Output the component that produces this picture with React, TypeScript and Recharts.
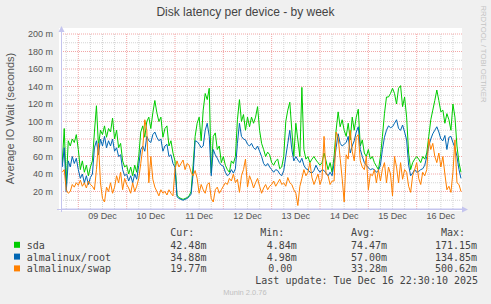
import React from 'react';
import { LineChart, Line, XAxis, YAxis, ReferenceLine } from 'recharts';

// hours after 08 Dec 00:00, one sample per hour
const START_HOUR = 16;

const sdaValues = [
  52, 92, 28, 78, 72, 80, 76, 85, 68, 45,
  55, 42, 50, 38, 48, 55, 88, 118, 72, 90,
  85, 95, 82, 92, 88, 104, 80, 90, 70, 75,
  55, 48, 50, 40, 48, 38, 50, 42, 60, 88,
  95, 82, 100, 105, 92, 110, 124, 110, 100, 105,
  82, 92, 95, 72, 78, 64, 55, 16, 13, 12,
  11, 12, 13, 15, 20, 50, 83, 98, 105, 78,
  113, 132, 125, 138, 41, 83, 87, 68, 72, 53,
  60, 50, 45, 42, 55, 52, 60, 102, 125, 100,
  108, 90, 105, 94, 105, 98, 105, 117, 90, 75,
  68, 60, 65, 62, 53, 50, 55, 57, 46, 48,
  60, 100, 113, 122, 90, 60, 98, 79, 60, 139,
  68, 57, 60, 53, 57, 60, 56, 53, 50, 53,
  64, 55, 45, 53, 42, 60, 90, 111, 94, 102,
  90, 83, 98, 79, 105, 90, 105, 114, 72, 79,
  64, 60, 68, 57, 60, 53, 49, 45, 60, 83,
  109, 128, 128, 132, 138, 132, 120, 138, 141, 117,
  128, 105, 64, 45, 53, 57, 60, 57, 53, 60,
  57, 64, 83, 102, 113, 124, 136, 124, 111, 113,
  98, 109, 102, 90, 120, 105, 72, 53, 42,
];

const rootValues = [
  48, 70, 20, 55, 48, 60, 52, 58, 45, 35,
  40, 30, 38, 28, 36, 40, 70, 78, 62, 80,
  72, 83, 70, 78, 72, 80, 66, 70, 60, 62,
  45, 38, 40, 32, 38, 30, 40, 34, 50, 68,
  72, 66, 83, 78, 76, 85, 88, 82, 78, 80,
  66, 72, 74, 60, 62, 52, 48, 14, 12, 11,
  10, 11, 12, 14, 17, 40, 78, 77, 74, 70,
  72, 90, 98, 83, 38, 68, 62, 58, 53, 50,
  49, 42, 38, 40, 45, 41, 46, 75, 98, 83,
  80, 79, 74, 72, 75, 70, 68, 72, 66, 60,
  52, 49, 52, 48, 45, 42, 45, 44, 40, 38,
  44, 60, 75, 90, 68, 55, 60, 56, 53, 58,
  50, 46, 45, 42, 41, 44, 50, 45, 42, 45,
  44, 41, 38, 42, 38, 52, 70, 86, 75, 72,
  74, 76, 83, 64, 72, 78, 88, 94, 68, 60,
  53, 50, 47, 45, 46, 45, 42, 44, 50, 68,
  82, 90, 95, 93, 94, 98, 102, 92, 90, 96,
  88, 79, 50, 38, 41, 45, 42, 43, 45, 46,
  50, 60, 72, 80, 86, 90, 94, 88, 80, 78,
  84, 68, 82, 83, 76, 70, 60, 45, 35,
];

const swapValues = [
  42, 45, 22, 18, 20, 28, 25, 30, 27, 33,
  26, 30, 24, 32, 28, 26, 22, 45, 75, 30,
  12, 8, 25, 20, 30, 18, 25, 38, 30, 42,
  22, 35, 28, 24, 18, 30, 20, 26, 35, 52,
  70, 102, 90, 30, 60, 34, 25, 20, 15, 22,
  18, 20, 16, 22, 18, 15, 45, 55, 48, 52,
  56, 45, 52, 50, 42, 38, 44, 35, 18, 28,
  22, 18, 28, 30, 12, 8, 22, 25, 18, 22,
  26, 30, 28, 35, 32, 40, 30, 34, 19, 38,
  45, 57, 25, 38, 32, 24, 30, 35, 26, 18,
  24, 28, 22, 26, 28, 32, 26, 30, 34, 28,
  30, 26, 36, 30, 28, 22, 18, 4, 26, 35,
  45, 38, 42, 53, 36, 28, 34, 40, 28, 35,
  83, 40, 38, 28, 32, 32, 88, 82, 58, 35,
  8, 62, 57, 90, 66, 55, 82, 85, 55, 48,
  45, 60, 22, 40, 38, 45, 30, 45, 32, 46,
  53, 30, 48, 40, 15, 60, 48, 30, 53, 34,
  45, 42, 26, 19, 38, 45, 53, 35, 28, 42,
  38, 45, 80, 68, 75, 60, 53, 64, 48, 60,
  40, 22, 26, 19, 42, 79, 30, 28, 20,
];

const xDomain = [15.4, 214.5];
const xTickHours = [36, 60, 84, 108, 132, 156, 180, 204];
const xTickLabels = ['09 Dec', '10 Dec', '11 Dec', '12 Dec', '13 Dec', '14 Dec', '15 Dec', '16 Dec'];
const midnightHours = [24, 48, 72, 96, 120, 144, 168, 192];
const sixHourGrid = [18, 30, 36, 42, 54, 60, 66, 78, 84, 90, 102, 108, 114, 126, 132, 138, 150, 156, 162, 174, 180, 186, 198, 204, 210];
const yTicks = [20, 40, 60, 80, 100, 120, 140, 160, 180, 200];
const yMinor = [10, 30, 50, 70, 90, 110, 130, 150, 170, 190];

const seriesNames = ['sda', 'almalinux/root', 'almalinux/swap'];
const seriesKeys = ['sda', 'root', 'swap'];
const seriesColors = ['#00CC00', '#0066B3', '#FF8000'];
const curText = ['42.48m', '34.88m', '19.77m'];
const minText = ['4.84m', '4.98m', '0.00'];
const avgText = ['74.47m', '57.00m', '33.28m'];
const maxText = ['171.15m', '134.85m', '500.62m'];
const lastUpdate = 'Last update: Tue Dec 16 22:30:10 2025';

const data = sdaValues.map((v, i) => ({
  t: START_HOUR + i,
  sda: v,
  root: rootValues[i],
  swap: swapValues[i],
}));

const AXIS = '#C4C4EE';
const MAJOR = '#F2A6A6';
const MINOR = '#D4D4D4';
const SANS = '"Liberation Sans", Arial, sans-serif';
const MONO = '"DejaVu Sans Mono", monospace';

export default function App() {
  return (
    <div style={{ position: 'absolute', left: 0, top: 0, width: 491, height: 304, background: '#F0F0F0', overflow: 'hidden' }}>
      <svg width={491} height={304} style={{ position: 'absolute', left: 0, top: 0 }}>
        <rect x={59} y={28} width={403} height={183} fill="#FFFFFF" />
      </svg>
      <div style={{ position: 'absolute', left: 0, top: 0 }}>
        <LineChart width={491} height={304} data={data} margin={{ top: 34, right: 29, bottom: 75, left: 0 }}>
          {yMinor.map((v) => (
            <ReferenceLine key={'ym' + v} y={v} stroke={MINOR} strokeDasharray="1 1" />
          ))}
          {sixHourGrid.map((v) => (
            <ReferenceLine key={'xm' + v} x={v} stroke={MINOR} strokeDasharray="1 1" />
          ))}
          {yTicks.map((v) => (
            <ReferenceLine key={'yM' + v} y={v} stroke={MAJOR} strokeDasharray="1 1" />
          ))}
          {midnightHours.map((v) => (
            <ReferenceLine key={'xM' + v} x={v} stroke={MAJOR} strokeDasharray="1 1" />
          ))}
          <XAxis
            type="number"
            dataKey="t"
            domain={xDomain}
            allowDataOverflow
            ticks={xTickHours}
            interval={0}
            tickFormatter={(v) => xTickLabels[xTickHours.indexOf(v)]}
            height={20}
            tickSize={0}
            tickMargin={4}
            tickLine={false}
            axisLine={{ stroke: AXIS }}
            tick={{ fill: '#555', fontSize: 9, fontFamily: SANS }}
          />
          <YAxis
            type="number"
            domain={[0, 200]}
            ticks={yTicks}
            interval={0}
            width={61}
            tickSize={0}
            tickMargin={8}
            tickLine={false}
            axisLine={false}
            tickFormatter={(v) => `${v} m`}
            tick={{ fill: '#555', fontSize: 9, fontFamily: SANS }}
          />
          {seriesKeys.map((k, i) => (
            <Line key={k} type="linear" dataKey={k} stroke={seriesColors[i]} strokeWidth={1} dot={false} isAnimationActive={false} />
          ))}
        </LineChart>
      </div>
      <svg width={491} height={304} style={{ position: 'absolute', left: 0, top: 0, pointerEvents: 'none' }}>
        {/* axes */}
        <line x1={61.5} y1={212} x2={61.5} y2={30} stroke={AXIS} strokeWidth={1} />
        <polygon points="61.5,26 58.5,32 64.5,32" fill={AXIS} />
        <line x1={57} y1={209.5} x2={464} y2={209.5} stroke={AXIS} strokeWidth={1} />
        <polygon points="468,209.5 462,206.5 462,212.5" fill={AXIS} />
        {/* title */}
        <text x={245.5} y={15.5} textAnchor="middle" fontFamily={SANS} fontSize={12} fill="#444">
          Disk latency per device - by week
        </text>
        <text transform="translate(13.5,118.5) rotate(-90)" textAnchor="middle" fontFamily={SANS} fontSize={11} fill="#555">
          Average IO Wait (seconds)
        </text>
        <text transform="translate(480.5,54) rotate(90)" textAnchor="middle" fontFamily={SANS} fontSize={7.7} fill="#C4C4C4">
          RRDTOOL / TOBI OETIKER
        </text>
        {/* legend */}
        <g fontFamily={MONO} fontSize={10} fill="#444">
          <text x={170.3} y={236}>Cur:</text>
          <text x={260.3} y={236}>Min:</text>
          <text x={351} y={236}>Avg:</text>
          <text x={441} y={236}>Max:</text>
          {seriesNames.map((n, i) => {
            const y = 248.8 + i * 11.8;
            return (
              <g key={n}>
                <rect x={14} y={y - 7} width={6} height={6} fill={seriesColors[i]} />
                <text x={26.7} y={y}>{n}</text>
                <text x={170.3} y={y}>{curText[i]}</text>
                <text x={i === 2 ? 268.3 : 266.7} y={y}>{minText[i]}</text>
                <text x={351} y={y}>{avgText[i]}</text>
                <text x={435} y={y}>{maxText[i]}</text>
              </g>
            );
          })}
          <text x={255.3} y={284}>{lastUpdate}</text>
        </g>
        <text x={245} y={294.5} textAnchor="middle" fontFamily={SANS} fontSize={7.5} fill="#C0C0C0">
          Munin 2.0.76
        </text>
      </svg>
    </div>
  );
}
